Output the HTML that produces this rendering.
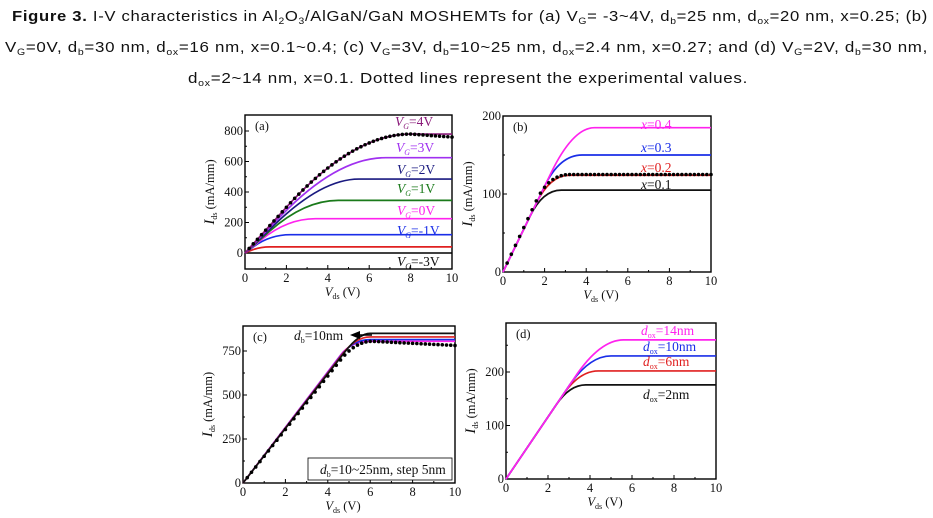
<!DOCTYPE html>
<html><head><meta charset="utf-8"><style>
html,body{margin:0;padding:0;background:#fff;width:933px;height:518px;overflow:hidden}
svg{display:block}
.cap{font-family:"Liberation Sans",sans-serif;font-size:14.5px;fill:#111;letter-spacing:0.6px}
.t{font-family:"Liberation Serif",serif;font-size:12.5px;fill:#111}
.lab{font-family:"Liberation Serif",serif;font-size:13.5px}
</style></head><body>
<svg id="s" width="933" height="518" xmlns="http://www.w3.org/2000/svg">
<text class="cap" x="12" y="21" textLength="916" lengthAdjust="spacingAndGlyphs"><tspan font-weight="bold">Figure 3.</tspan> I-V characteristics in Al<tspan font-size="9" dy="3">2</tspan><tspan dy="-3">O</tspan><tspan font-size="9" dy="3">3</tspan><tspan dy="-3">/AlGaN/GaN MOSHEMTs for (a) V</tspan><tspan font-size="9" dy="3">G</tspan><tspan dy="-3">= -3~4V, d</tspan><tspan font-size="9" dy="3">b</tspan><tspan dy="-3">=25 nm, d</tspan><tspan font-size="9" dy="3">ox</tspan><tspan dy="-3">=20 nm, x=0.25; (b)</tspan></text>
<text class="cap" x="5" y="52" textLength="923" lengthAdjust="spacingAndGlyphs">V<tspan font-size="9" dy="3">G</tspan><tspan dy="-3">=0V, d</tspan><tspan font-size="9" dy="3">b</tspan><tspan dy="-3">=30 nm, d</tspan><tspan font-size="9" dy="3">ox</tspan><tspan dy="-3">=16 nm, x=0.1~0.4; (c) V</tspan><tspan font-size="9" dy="3">G</tspan><tspan dy="-3">=3V, d</tspan><tspan font-size="9" dy="3">b</tspan><tspan dy="-3">=10~25 nm, d</tspan><tspan font-size="9" dy="3">ox</tspan><tspan dy="-3">=2.4 nm, x=0.27; and (d) V</tspan><tspan font-size="9" dy="3">G</tspan><tspan dy="-3">=2V, d</tspan><tspan font-size="9" dy="3">b</tspan><tspan dy="-3">=30 nm,</tspan></text>
<text class="cap" x="188" y="83" textLength="560" lengthAdjust="spacingAndGlyphs">d<tspan font-size="9" dy="3">ox</tspan><tspan dy="-3">=2~14 nm, x=0.1. Dotted lines represent the experimental values.</tspan></text>
<g id="g"></g>
</svg>
<script>
var g=document.getElementById('g'),NS='http://www.w3.org/2000/svg';
function el(t,a,txt){var e=document.createElementNS(NS,t);for(var k in a)e.setAttribute(k,a[k]);if(txt!=null)e.innerHTML=txt;g.appendChild(e);return e;}
function panel(P){
 var X=function(v){return P.x0+(P.x1-P.x0)*v/10},Y=function(v){return P.y0-(P.y0-P.ym)*v/P.vm};
 P.X=X;P.Y=Y;
 el('rect',{x:P.x0,y:P.top,width:P.x1-P.x0,height:P.bot-P.top,fill:'none',stroke:'#000','stroke-width':1.4});
 for(var i=0;i<=10;i+=2){el('line',{x1:X(i),x2:X(i),y1:P.bot,y2:P.bot-4,stroke:'#000'});el('text',{class:'t',x:X(i),y:P.bot+13,'text-anchor':'middle'},i);}
 for(var i=1;i<10;i+=2)el('line',{x1:X(i),x2:X(i),y1:P.bot,y2:P.bot-2,stroke:'#000'});
 P.yt.forEach(function(v){el('line',{x1:P.x0,x2:P.x0+4,y1:Y(v),y2:Y(v),stroke:'#000'});el('text',{class:'t',x:P.x0-2,y:Y(v)+4,'text-anchor':'end'},v);});
 (P.ym2||[]).forEach(function(v){el('line',{x1:P.x0,x2:P.x0+2,y1:Y(v),y2:Y(v),stroke:'#000'});});
 el('text',{class:'t',x:(P.x0+P.x1)/2-6,y:P.bot+27,'text-anchor':'middle','font-size':13.5},'<tspan font-style="italic">V</tspan><tspan font-size="8" dy="3">ds</tspan><tspan dy="-3"> (V)</tspan>');
 var cy=(P.top+P.bot)/2;
 el('text',{class:'t','font-size':13.5,transform:'translate('+(P.x0-31)+','+cy+') rotate(-90)','text-anchor':'middle'},'<tspan font-style="italic" font-size="15">I</tspan><tspan font-size="8" dy="3">ds</tspan><tspan dy="-3"> (mA/mm)</tspan>');
 el('text',{class:'t',x:P.x0+10,y:P.top+15,'font-size':13},P.name);
}
function curve(P,s,I,x1,xs,col,w){
 var X=P.X,Y=P.Y,xc=I/s;
 var d='M'+X(0)+','+Y(0)+' L'+X(x1)+','+Y(s*x1)+' Q'+X(xc)+','+Y(I)+' '+X(xs)+','+Y(I)+' L'+X(10)+','+Y(I);
 el('path',{d:d,fill:'none',stroke:col,'stroke-width':w||1.7});
}
function dots(P,fn,step){for(var v=0.2;v<=10.001;v+=step)el('circle',{cx:P.X(v),cy:P.Y(fn(v)),r:1.8,fill:'#000'});}
function sat(s,I,x1,xs){var xc=I/s;return function(v){if(v<=x1)return s*v;if(v>=xs)return I;
 var lo=0,hi=1;for(var k=0;k<30;k++){var t=(lo+hi)/2,x=(1-t)*(1-t)*x1+2*t*(1-t)*xc+t*t*xs;if(x<v)lo=t;else hi=t;}
 var t=lo;return (1-t)*(1-t)*s*x1+2*t*(1-t)*I+t*t*I;};}
var A={x0:245,x1:452,top:115,bot:269,y0:253,ym:131,vm:800,yt:[0,200,400,600,800],ym2:[100,300,500,700],name:'(a)'};
panel(A);
el('line',{x1:A.X(0),x2:A.X(10),y1:A.Y(0),y2:A.Y(0),stroke:'#000','stroke-width':1.4});
curve(A,60,40,0.2,1.2,'#e02020');
curve(A,100,120,0.4,2.2,'#1a2ee8');
curve(A,110,225,0.8,3.4,'#ff22ee');
curve(A,120,345,1.2,4.5,'#1a7a1a');
curve(A,130,485,1.5,5.5,'#1a1a80');
curve(A,140,625,1.8,6.8,'#a030f0');
curve(A,150,780,2,8,'#8a1a7a');
var fa=sat(150,780,2,8);dots(A,function(v){return v>8?780-(v-8)*10:fa(v)},0.2);
function vg(x,y,c,t){el('text',{class:'lab',x:x,y:y,fill:c},'<tspan font-style="italic">V</tspan><tspan font-size="8" dy="3" font-style="italic">G</tspan><tspan dy="-3">='+t+'</tspan>');}
vg(395,126,'#8a1a7a','4V');vg(396,152,'#a030f0','3V');vg(397,174,'#1a1a80','2V');vg(397,193,'#1a7a1a','1V');vg(397,215,'#ff22ee','0V');vg(397,235,'#1a2ee8','-1V');vg(397,266,'#111','-3V');
var B={x0:503,x1:711,top:116,bot:272,y0:272,ym:116,vm:200,yt:[0,100,200],ym2:[50,150],name:'(b)'};
panel(B);
curve(B,55,105,1.3,2.8,'#111');
curve(B,55,124,1.6,3.2,'#e02020');
curve(B,55,150,2,3.8,'#1a2ee8');
curve(B,55,185,2.3,4.4,'#ff22ee');
dots(B,sat(57,125,1.6,3.2),0.2);
function xl(x,y,c,t){el('text',{class:'lab',x:x,y:y,fill:c},'<tspan font-style="italic">x</tspan>='+t);}
xl(641,129,'#ff22ee','0.4');xl(641,152,'#1a2ee8','0.3');xl(641,172,'#e02020','0.2');xl(641,189,'#111','0.1');
var C={x0:243,x1:455,top:326,bot:483,y0:483,ym:351,vm:750,yt:[0,250,500,750],ym2:[125,375,625],name:'(c)'};
panel(C);
curve(C,158,805,4.6,6,'#ff22ee');
curve(C,157,815,4.6,6,'#1a2ee8');
curve(C,156,830,4.7,6,'#e02020');
curve(C,155,850,4.8,6,'#111');
var fc=sat(152,805,4.6,6.1);dots(C,function(v){return v>6.1?805-(v-6.1)*6:fc(v)},0.2);
el('text',{class:'lab',x:294,y:340,fill:'#111'},'<tspan font-style="italic">d</tspan><tspan font-size="8" dy="3">b</tspan><tspan dy="-3">=10nm</tspan>');
el('path',{d:'M358,335 L372,335',stroke:'#000','stroke-width':1.5});el('path',{d:'M350,335 L360,331 L360,339Z',fill:'#000'});
el('rect',{x:308,y:458,width:144,height:22,fill:'#fff',stroke:'#000','stroke-width':0.8});
el('text',{class:'lab',x:320,y:474,fill:'#111'},'<tspan font-style="italic">d</tspan><tspan font-size="8" dy="3">b</tspan><tspan dy="-3">=10~25nm, step 5nm</tspan>');
var D={x0:506,x1:716,top:323,bot:479,y0:479,ym:372,vm:200,yt:[0,100,200],ym2:[50,150,250],name:'(d)'};
panel(D);
curve(D,58,176,2.4,3.8,'#111');
curve(D,58,202,2.7,4.4,'#e02020');
curve(D,58,230,3,5,'#1a2ee8');
curve(D,58,260,3.3,5.6,'#ff22ee');
function dl(x,y,c,t){el('text',{class:'lab',x:x,y:y,fill:c},'<tspan font-style="italic">d</tspan><tspan font-size="8" dy="3">ox</tspan><tspan dy="-3">='+t+'</tspan>');}
dl(641,335,'#ff22ee','14nm');dl(643,351,'#1a2ee8','10nm');dl(643,366,'#e02020','6nm');dl(643,399,'#111','2nm');
</script>
</body></html>
